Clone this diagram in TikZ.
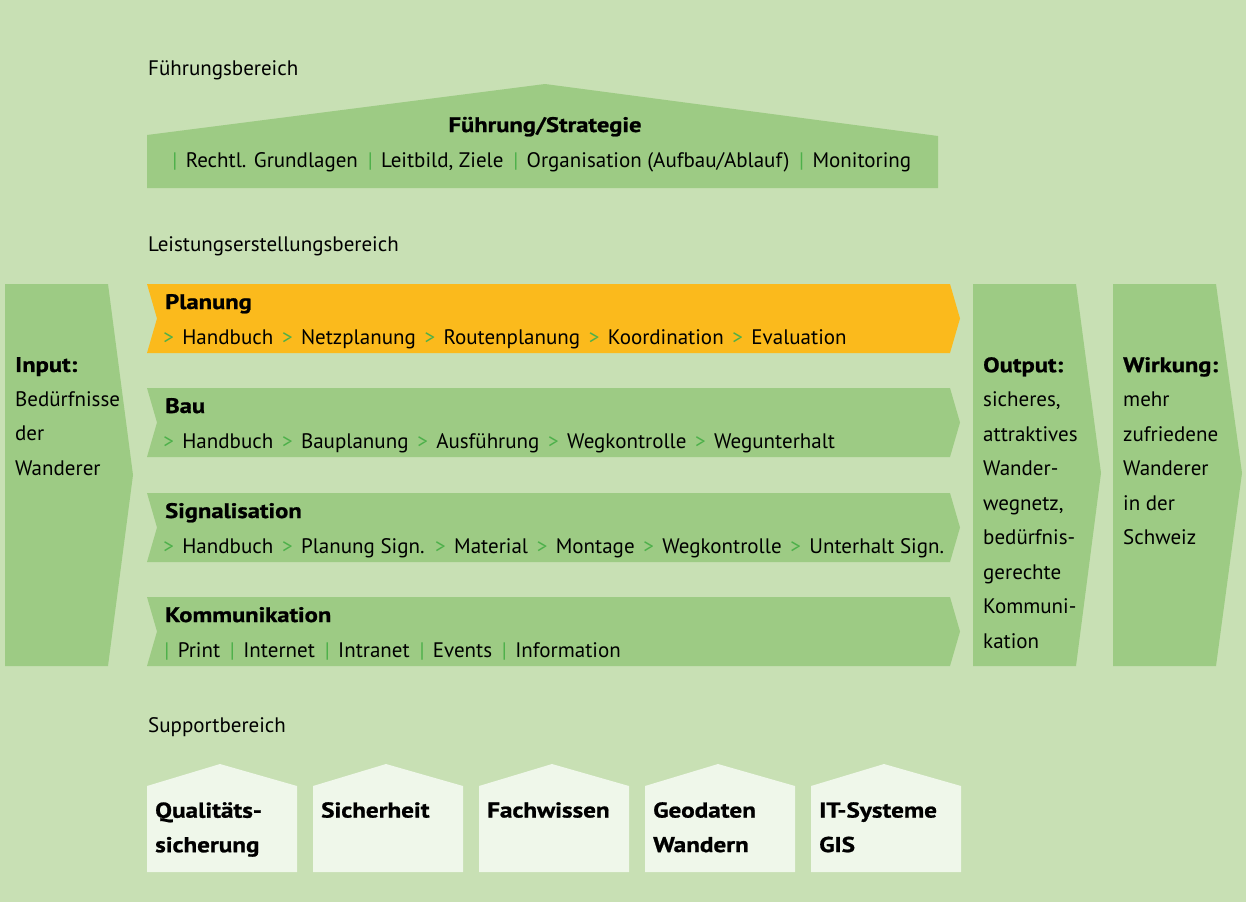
\documentclass[tikz,border=0pt]{standalone}
\usepackage{fontspec}
\setmainfont{PT Sans}[BoldFeatures={FakeStretch=1.17,FakeBold=1}]
\usetikzlibrary{positioning}

\definecolor{grundgruen}{HTML}{C8E0B4}
\definecolor{bandgruen}{HTML}{9DCB84}
\definecolor{bandorange}{HTML}{FBBA1C}
\definecolor{trenngruen}{HTML}{4DB04A}
\definecolor{hausweiss}{HTML}{EFF7EA}

\newcommand{\pfeil}{\hspace{0.15em}{\color{trenngruen}>}\hspace{0.4em}}
\newcommand{\strich}{\hspace{0.2em}{\color{trenngruen}|}\hspace{0.4em}}

\begin{document}
\begin{tikzpicture}[x=1pt,y=-1pt,
        every node/.style={inner sep=0pt},
        bereich/.style={anchor=base west,font=\fontsize{21}{24}\selectfont},
        titel/.style={font=\bfseries\fontsize{21}{24}\selectfont},
        eintrag/.style={font=\fontsize{21}{24}\selectfont},
        seitentext/.style={anchor=north west,align=left,font=\fontsize{21}{34.5}\selectfont},
        haustext/.style={anchor=north west,align=left,font=\bfseries\fontsize{21.5}{34.5}\selectfont}]

    % Hintergrund
    \fill[grundgruen] (0,0) rectangle (1246,902);

    % Fuehrungsbereich
    \node[bereich] (fb) at (148,75) {Führungsbereich};
    \fill[bandgruen] (147,188) -- (147,135) -- (545,84) -- (938,136) -- (938,188) -- cycle;
    \node[titel,anchor=base] (fs) at (545,132) {Führung/Strategie};
    \node[eintrag,anchor=base west] (fi) at (168,167)
        {\strich Rechtl. Grundlagen \strich Leitbild, Ziele \strich Organisation (Aufbau/Ablauf) \strich Monitoring};

    % Leistungserstellungsbereich
    \node[bereich] (lb) at (148,251) {Leistungserstellungsbereich};
    \fill[bandgruen] (5,284) -- (108,284) -- (133,475) -- (108,666) -- (5,666) -- cycle;
    \node[seitentext] (input) at (15,357) {\textbf{Input:}\\Bedürfnisse\\der\\Wanderer};

    \foreach \y/\name/\farbe/\titeltext/\liste in {
        284/plan/bandorange/Planung/{\pfeil Handbuch \pfeil Netzplanung \pfeil Routenplanung \pfeil Koordination \pfeil Evaluation},
        388/bau/bandgruen/Bau/{\pfeil Handbuch \pfeil Bauplanung \pfeil Ausführung \pfeil Wegkontrolle \pfeil Wegunterhalt},
        493/sig/bandgruen/Signalisation/{\pfeil Handbuch \pfeil Planung Sign. \pfeil Material \pfeil Montage \pfeil Wegkontrolle \pfeil Unterhalt Sign.},
        597/kom/bandgruen/Kommunikation/{\strich Print \strich Internet \strich Intranet \strich Events \strich Information}} {
        \fill[\farbe] (147,\y) -- (950,\y) -- (960,\y+34.5) -- (950,\y+69) -- (147,\y+69) -- (157,\y+34.5) -- cycle;
        \node[titel,anchor=base west] (\name-t) at (165,\y+25) {\titeltext};
        \node[eintrag,anchor=base west] (\name-e) at (160,\y+60) {\liste};
    }

    \fill[bandgruen] (973,284) -- (1076,284) -- (1101,473) -- (1076,666) -- (973,666) -- cycle;
    \node[seitentext] (output) at (983,357)
        {\textbf{Output:}\\sicheres,\\attraktives\\Wander-\\wegnetz,\\bedürfnis-\\gerechte\\Kommuni-\\kation};
    \fill[bandgruen] (1113,284) -- (1216,284) -- (1242,473) -- (1216,666) -- (1113,666) -- cycle;
    \node[seitentext] (wirkung) at (1123,357)
        {\textbf{Wirkung:}\\mehr\\zufriedene\\Wanderer\\in der\\Schweiz};

    % Supportbereich
    \node[bereich] (sb) at (148,732) {Supportbereich};
    \foreach \i/\name/\text in {0/qs/{Qualitäts-\\sicherung}, 1/si/Sicherheit, 2/fw/Fachwissen,
        3/gd/{Geodaten\\Wandern}, 4/it/{IT-Systeme\\GIS}} {
        \fill[hausweiss] (147+166*\i,872) -- (147+166*\i,786) -- (220+166*\i,764)
            -- (297+166*\i,786) -- (297+166*\i,872) -- cycle;
        \node[haustext] (\name) at (155+166*\i,802) {\text};
    }
\end{tikzpicture}
\end{document}
